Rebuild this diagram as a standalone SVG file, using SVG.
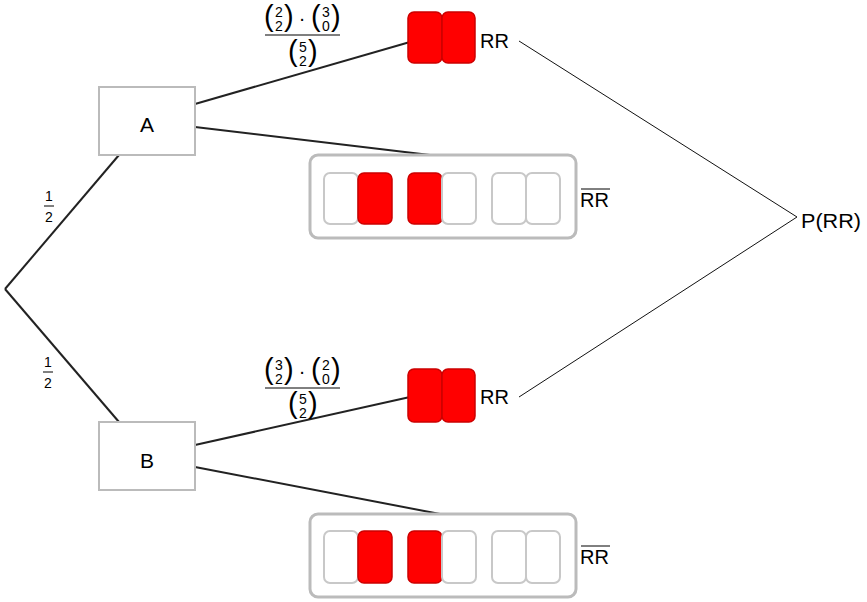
<svg xmlns="http://www.w3.org/2000/svg" width="867" height="602" viewBox="0 0 867 602">
<style>
text{font-family:"Liberation Sans","DejaVu Sans",sans-serif;fill:#000}
.node{fill:#fff;stroke:#bbb;stroke-width:2}
.big{font-size:21px}
.lbl{font-size:20px}
.dig{font-size:14px;text-anchor:middle}
.dot{font-size:20px;text-anchor:middle}
.par{font-size:29px}
.edge{stroke:#222;stroke-width:2;fill:none}
.thin{stroke:#111;stroke-width:1;fill:none}
.red{fill:#f00;stroke:#c00;stroke-width:1.5}
.wht{fill:#fff;stroke:#c8c8c8;stroke-width:2}
.frame{fill:#fff;stroke:#bbb;stroke-width:3}
.fl{stroke:#000;stroke-width:1}
</style>
<g id="connectors">
<path class="edge" d="M5,289 L119,155"/>
<path class="edge" d="M5,289 L119,422"/>
<path class="edge" d="M195,104 L410,42"/>
<path class="edge" d="M195,127 L430,155"/>
<path class="edge" d="M195,445 L410,397"/>
<path class="edge" d="M195,467 L440,514"/>
<path class="thin" d="M519,41 L797,217 L519,397"/>
</g>
<g id="edge-labels">
<text class="dig" x="49" y="201">1</text>
<line class="fl" x1="44" y1="206" x2="54" y2="206"/>
<text class="dig" x="49" y="222">2</text>
<text class="dig" x="48" y="367">1</text>
<line class="fl" x1="43" y1="372" x2="53" y2="372"/>
<text class="dig" x="48" y="388">2</text>
</g>
<g id="frac-top">
<text class="par" x="264" y="26">(</text><text class="dig" x="279" y="17">2</text><text class="dig" x="279" y="31">2</text><text class="par" x="284" y="26">)</text>
<text class="dot" x="302" y="25">·</text>
<text class="par" x="311" y="26">(</text><text class="dig" x="326" y="17">3</text><text class="dig" x="326" y="31">0</text><text class="par" x="331" y="26">)</text>
<line class="fl" x1="265" y1="35" x2="340" y2="35"/>
<text class="par" x="288" y="61">(</text><text class="dig" x="303" y="52">5</text><text class="dig" x="303" y="66">2</text><text class="par" x="308" y="61">)</text>
</g>
<g id="frac-bottom">
<text class="par" x="264" y="379">(</text><text class="dig" x="279" y="370">3</text><text class="dig" x="279" y="384">2</text><text class="par" x="284" y="379">)</text>
<text class="dot" x="302" y="378">·</text>
<text class="par" x="311" y="379">(</text><text class="dig" x="326" y="370">2</text><text class="dig" x="326" y="384">0</text><text class="par" x="331" y="379">)</text>
<line class="fl" x1="265" y1="388" x2="340" y2="388"/>
<text class="par" x="288" y="413">(</text><text class="dig" x="303" y="404">5</text><text class="dig" x="303" y="418">2</text><text class="par" x="308" y="413">)</text>
</g>
<g id="node-A">
<rect class="node" x="99" y="87" width="96" height="68"/>
<text class="big" x="147" y="132" text-anchor="middle">A</text>
</g>
<g id="node-B">
<rect class="node" x="99" y="422" width="96" height="68"/>
<text class="big" x="147" y="468" text-anchor="middle">B</text>
</g>
<g id="node-RR-A">
<rect class="red" x="408" y="12" width="34" height="51" rx="6"/>
<rect class="red" x="442" y="12" width="33" height="51" rx="6"/>
<text class="lbl" x="480" y="48">RR</text>
</g>
<g id="node-notRR-A">
<rect class="frame" x="310" y="155" width="266" height="83" rx="8"/>
<rect class="wht" x="324" y="173" width="34" height="51" rx="6"/>
<rect class="red" x="358" y="173" width="34" height="51" rx="6"/>
<rect class="red" x="408" y="173" width="34" height="51" rx="6"/>
<rect class="wht" x="442" y="173" width="34" height="51" rx="6"/>
<rect class="wht" x="492" y="173" width="34" height="51" rx="6"/>
<rect class="wht" x="526" y="173" width="34" height="51" rx="6"/>
<text class="lbl" x="580" y="207">RR</text>
<line class="fl" x1="581" y1="189" x2="610" y2="189"/>
</g>
<g id="node-RR-B">
<rect class="red" x="408" y="369" width="34" height="53" rx="6"/>
<rect class="red" x="442" y="369" width="33" height="53" rx="6"/>
<text class="lbl" x="480" y="404">RR</text>
</g>
<g id="node-notRR-B">
<rect class="frame" x="310" y="514" width="266" height="83" rx="8"/>
<rect class="wht" x="324" y="531" width="34" height="52" rx="6"/>
<rect class="red" x="358" y="531" width="34" height="52" rx="6"/>
<rect class="red" x="408" y="531" width="34" height="52" rx="6"/>
<rect class="wht" x="442" y="531" width="34" height="52" rx="6"/>
<rect class="wht" x="492" y="531" width="34" height="52" rx="6"/>
<rect class="wht" x="526" y="531" width="34" height="52" rx="6"/>
<text class="lbl" x="580" y="564">RR</text>
<line class="fl" x1="581" y1="546" x2="610" y2="546"/>
</g>
<g id="node-P">
<text class="lbl" x="801" y="228" textLength="60" lengthAdjust="spacingAndGlyphs">P(RR)</text>
</g>
</svg>
